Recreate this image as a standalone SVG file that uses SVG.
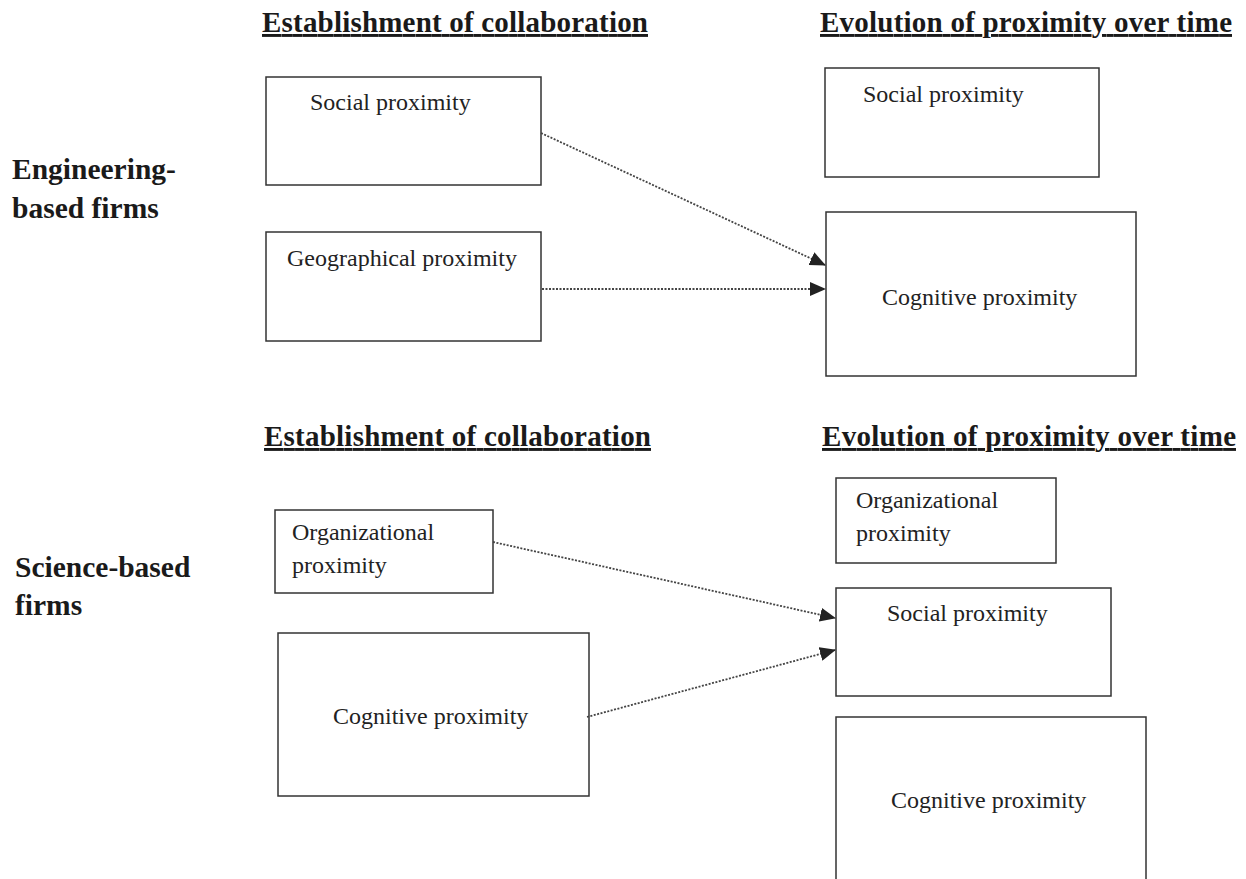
<svg xmlns="http://www.w3.org/2000/svg" width="1246" height="879" viewBox="0 0 1246 879">
<style>
.hdr{font-family:"Liberation Serif","Times New Roman",serif;font-weight:bold;font-size:29px;fill:#1a1a1a;text-decoration:underline}
.side{font-family:"Liberation Serif","Times New Roman",serif;font-weight:bold;font-size:29.5px;fill:#1a1a1a}
.lbl{font-family:"Liberation Serif","Times New Roman",serif;font-size:24px;fill:#222}
.box{fill:#fff;stroke:#333;stroke-width:1.5}
.con{fill:none;stroke:#444;stroke-width:1.8;stroke-dasharray:2 1.5}
</style>
<defs>
<marker id="arr" markerWidth="16" markerHeight="14" refX="15" refY="7" orient="auto" markerUnits="userSpaceOnUse">
<path d="M0,0 L16,7 L0,14 Z" fill="#222"/>
</marker>
</defs>
<rect width="1246" height="879" fill="#fff"/>
<g id="headers">
<text class="hdr" x="262" y="32" textLength="386">Establishment of collaboration</text>
<text class="hdr" x="820" y="32" textLength="412">Evolution of proximity over time</text>
<text class="hdr" x="264" y="446" textLength="387">Establishment of collaboration</text>
<text class="hdr" x="822" y="446" textLength="414">Evolution of proximity over time</text>
</g>
<g id="side-labels">
<text class="side" x="12" y="179">Engineering-</text>
<text class="side" x="12" y="218">based firms</text>
<text class="side" x="15" y="577">Science-based</text>
<text class="side" x="15" y="615">firms</text>
</g>
<g id="eng-social-left"><rect class="box" x="266" y="77" width="275" height="108"/><text class="lbl" x="310" y="110">Social proximity</text></g>
<g id="eng-geo-left"><rect class="box" x="266" y="232" width="275" height="109"/><text class="lbl" x="287" y="266">Geographical proximity</text></g>
<g id="eng-social-right"><rect class="box" x="825" y="68" width="274" height="109"/><text class="lbl" x="863" y="102">Social proximity</text></g>
<g id="eng-cog-right"><rect class="box" x="826" y="212" width="310" height="164"/><text class="lbl" x="882" y="305">Cognitive proximity</text></g>
<g id="sci-org-left"><rect class="box" x="275" y="510" width="218" height="83"/><text class="lbl" x="292" y="540">Organizational</text><text class="lbl" x="292" y="573">proximity</text></g>
<g id="sci-cog-left"><rect class="box" x="278" y="633" width="311" height="163"/><text class="lbl" x="333" y="724">Cognitive proximity</text></g>
<g id="sci-org-right"><rect class="box" x="836" y="478" width="220" height="85"/><text class="lbl" x="856" y="508">Organizational</text><text class="lbl" x="856" y="541">proximity</text></g>
<g id="sci-social-right"><rect class="box" x="836" y="588" width="275" height="108"/><text class="lbl" x="887" y="621">Social proximity</text></g>
<g id="sci-cog-right"><rect class="box" x="836" y="717" width="310" height="200"/><text class="lbl" x="891" y="808">Cognitive proximity</text></g>
<g id="connectors">
<line class="con" x1="541" y1="133" x2="825" y2="265" marker-end="url(#arr)"/>
<line class="con" x1="542" y1="289" x2="825" y2="289" marker-end="url(#arr)"/>
<line class="con" x1="493" y1="542" x2="835" y2="618" marker-end="url(#arr)"/>
<line class="con" x1="587" y1="717" x2="835" y2="650" marker-end="url(#arr)"/>
</g>
</svg>
